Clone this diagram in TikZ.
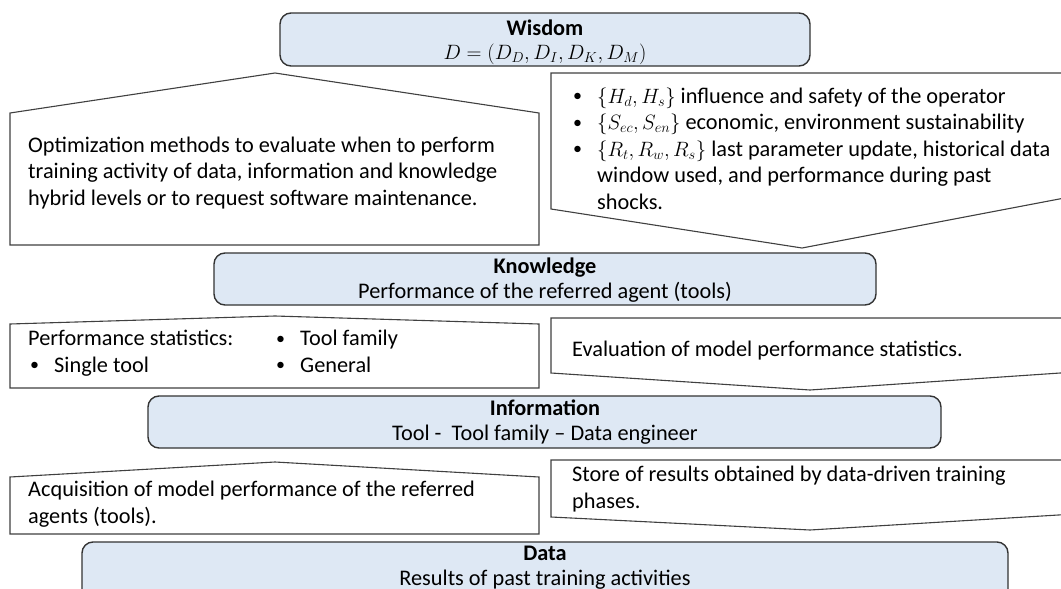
\documentclass[tikz,border=0pt]{standalone}
\usepackage{fontspec}
\setmainfont{Carlito}
\tikzset{
  level/.style={draw=black!80, line width=1.4pt, fill=levelblue, rounded corners=11pt},
  callout/.style={draw=black!75, line width=1.1pt, fill=white},
  txt/.style={inner sep=0pt, align=left, font=\fontsize{22.3}{26.5}\selectfont},
  ctxt/.style={inner sep=0pt, align=center, font=\fontsize{22.3}{25}\selectfont},
}
\definecolor{levelblue}{HTML}{DEE8F4}
% small list bullet followed by a fixed indent
\newcommand{\bul}{\makebox[26pt][l]{\hspace*{2pt}\raisebox{1.5pt}{\fontsize{18}{18}\selectfont\textbullet}}}
\begin{document}
% text nodes are placed by the baseline of their last line
\begin{tikzpicture}[x=1pt,y=-1pt]
\useasboundingbox (0,0) rectangle (1061,589);
\clip (0,0) rectangle (1061,589);

% level boxes
\draw[level] (280,13) rectangle (810,66);
\draw[level] (214,253) rectangle (876,305);
\draw[level] (148,396) rectangle (941,448);
\draw[level] (82,542) rectangle (1008,610);

% upward callouts (left column)
\draw[callout] (10,245) -- (10,113) -- (275,73) -- (539,113) -- (539,245) -- cycle;
\draw[callout] (10,388) -- (10,324) -- (275,316) -- (539,324) -- (539,388) -- cycle;
\draw[callout] (10,534) -- (10,477) -- (275,462) -- (539,477) -- (539,534) -- cycle;

% downward callouts (right column)
\draw[callout] (551,73) -- (1075,73) -- (1075,196) -- (802,248) -- (551,209) -- cycle;
\draw[callout] (551,318) -- (1075,318) -- (1075,372) -- (810,390) -- (551,373) -- cycle;
\draw[callout] (551,460) -- (1075,460) -- (1075,514) -- (810,530) -- (551,517) -- cycle;

% level titles
\node[ctxt, anchor=base] (wis) at (545,59) {\textbf{Wisdom}\\[-1pt] $D=(D_D,D_I,D_K,D_M)$};
\node[ctxt, anchor=base] (kno) at (545,298) {\textbf{Knowledge}\\ Performance of the referred agent (tools)};
\node[ctxt, anchor=base] (inf) at (545,440) {\textbf{Information}\\ Tool -\ \ Tool family -- Data engineer};
\node[ctxt, anchor=base] (dat) at (545,585) {\textbf{Data}\\ Results of past training activities};

% callout texts
\node[txt, anchor=base west] (opt) at (28,205)
  {Optimization methods to evaluate when to perform\\
   training activity of data, information and knowledge\\
   hybrid levels or to request software maintenance.};
\node[txt, anchor=base west] (par) at (571,209)
  {\bul$\{H_d,H_s\}$ influence and safety of the operator\\
   \bul$\{S_{ec},S_{en}\}$ economic, environment sustainability\\
   \bul$\{R_t,R_w,R_s\}$ last parameter update, historical data\\
   \hspace*{26pt}window used, and performance during past\\
   \hspace*{26pt}shocks.};
\node[txt, anchor=base west] (pst) at (28,372)
  {Performance statistics:\\ \bul Single tool};
\node[txt, anchor=base west] (pfam) at (274,372)
  {\bul Tool family\\ \bul General};
\node[txt, anchor=base west] (eva) at (572,356)
  {Evaluation of model performance statistics.};
\node[txt, anchor=base west] (acq) at (28,523)
  {Acquisition of model performance of the referred\\ agents (tools).};
\node[txt, anchor=base west] (sto) at (572,508)
  {Store of results obtained by data-driven training\\ phases.};
\end{tikzpicture}
\end{document}
